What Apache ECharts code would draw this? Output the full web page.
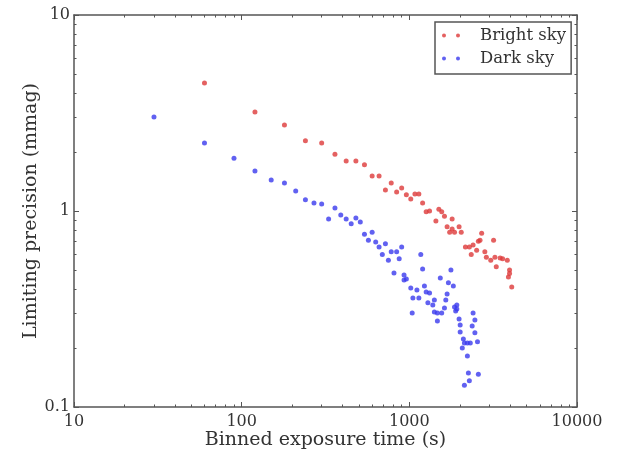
<!DOCTYPE html>
<html>
<head>
<meta charset="utf-8">
<script src="https://cdn.jsdelivr.net/npm/echarts@6/dist/echarts.min.js"></script>
<style>
html,body{margin:0;padding:0;background:#fff;}
#chart{width:619px;height:454px;}
</style>
</head>
<body>
<div id="chart"></div>
<script>
// Bright sky: [binned exposure time (s), limiting precision (mmag)]
var brightSky = [
  [60,4.50],[120,3.20],[180,2.75],[240,2.28],[300,2.22],[360,1.95],[420,1.80],[480,1.80],
  [540,1.72],[600,1.51],[660,1.51],[780,1.39],[720,1.28],[840,1.25],[900,1.31],[960,1.21],
  [1020,1.15],[1080,1.22],[1140,1.22],[1200,1.10],[1260,0.99],[1320,1.00],[1500,1.02],
  [1560,0.99],[1440,0.89],[1620,0.94],[1800,0.91],[1680,0.83],[1800,0.81],[1860,0.78],
  [1980,0.83],[2040,0.78],[1740,0.78],[2160,0.655],[2280,0.655],[2400,0.67],[2580,0.70],
  [2640,0.71],[2700,0.77],[2520,0.63],[2340,0.60],[2820,0.62],[3180,0.71],[2880,0.58],
  [3060,0.56],[3240,0.58],[3480,0.575],[3600,0.57],[3840,0.56],[3300,0.52],[3960,0.50],
  [3960,0.48],[3900,0.46],[4080,0.41]
];
// Dark sky
var darkSky = [
  [30,3.02],[60,2.22],[90,1.86],[120,1.60],[150,1.44],[180,1.39],[210,1.265],[240,1.14],
  [270,1.10],[300,1.086],[360,1.036],[330,0.91],[390,0.954],[420,0.91],[450,0.86],[480,0.92],
  [510,0.88],[540,0.76],[600,0.78],[570,0.71],[630,0.695],[720,0.68],[660,0.655],[780,0.62],
  [840,0.62],[900,0.655],[690,0.60],[750,0.56],[870,0.57],[1170,0.60],[1200,0.506],[810,0.483],
  [930,0.471],[930,0.444],[960,0.45],[1020,0.405],[1110,0.395],[1050,0.36],[1140,0.36],
  [1040,0.302],[1230,0.414],[1260,0.386],[1320,0.382],[1290,0.34],[1380,0.331],[1410,0.351],
  [1410,0.305],[1470,0.302],[1560,0.302],[1470,0.275],[1530,0.455],[1620,0.32],[1650,0.351],
  [1680,0.377],[1710,0.43],[1770,0.50],[1830,0.414],[1860,0.324],[1920,0.331],[1890,0.309],
  [1920,0.316],[1980,0.281],[2010,0.262],[2010,0.241],[2100,0.222],[2130,0.212],[2070,0.20],
  [2220,0.212],[2310,0.212],[2220,0.182],[2400,0.302],[2460,0.278],[2370,0.259],[2460,0.239],
  [2550,0.215],[2250,0.149],[2280,0.136],[2130,0.129],[2580,0.147]
];
var xMajorTicks = [10, 100, 1000, 10000];
var xMinorTicks = [20,30,40,50,60,70,80,90,200,300,400,500,600,700,800,900,2000,3000,4000,5000,6000,7000,8000,9000];
var yMajorTicks = [0.1, 1, 10];
var yMinorTicks = [0.2,0.3,0.4,0.5,0.6,0.7,0.8,0.9,2,3,4,5,6,7,8,9];
var xTitle = 'Binned exposure time (s)';
var yTitle = 'Limiting precision (mmag)';
var seriesNames = ['Bright sky', 'Dark sky'];

var FONT = 'DejaVu Serif';
var AXC = '#555';
var TXT = '#333';
function plain(v) { return String(v); }

function xAx(pos, ticks, len, showLine, showLabel, name) {
  return {
    type: 'log', logBase: 10, min: 10, max: 10000, position: pos,
    name: name || '', nameLocation: 'middle', nameGap: 24, nameMoveOverlap: false,
    nameTextStyle: {fontFamily: FONT, fontSize: 19, color: TXT},
    axisLine: {show: showLine, lineStyle: {color: AXC, width: 1.5}},
    axisTick: {show: true, inside: true, length: len, customValues: ticks, lineStyle: {color: AXC, width: 1}},
    axisLabel: {show: showLabel, customValues: ticks, margin: 7, fontFamily: FONT, fontSize: 16, color: TXT,
      formatter: plain},
    splitLine: {show: false}, minorTick: {show: false}
  };
}
function yAx(pos, ticks, len, showLine, showLabel, name) {
  return {
    type: 'log', logBase: 10, min: 0.1, max: 10, position: pos,
    name: name || '', nameLocation: 'middle', nameGap: 33, nameMoveOverlap: false,
    nameTextStyle: {fontFamily: FONT, fontSize: 19, color: TXT},
    axisLine: {show: showLine, lineStyle: {color: AXC, width: 1.5}},
    axisTick: {show: true, inside: true, length: len, customValues: ticks, lineStyle: {color: AXC, width: 1}},
    axisLabel: {show: showLabel, customValues: ticks, margin: 4, fontFamily: FONT, fontSize: 16, color: TXT,
      formatter: plain},
    splitLine: {show: false}, minorTick: {show: false}
  };
}

var chart = echarts.init(document.getElementById('chart'), null, {renderer: 'canvas'});
chart.setOption({
  animation: false,
  backgroundColor: '#fff',
  grid: {left: 74, right: 42, top: 15, bottom: 47, containLabel: false, outerBoundsMode: 'none'},
  xAxis: [
    xAx('bottom', xMajorTicks, 5, true, true, xTitle),
    xAx('bottom', xMinorTicks, 2.5, false, false),
    xAx('top', xMajorTicks, 5, true, false),
    xAx('top', xMinorTicks, 2.5, false, false)
  ],
  yAxis: [
    yAx('left', yMajorTicks, 5, true, true, yTitle),
    yAx('left', yMinorTicks, 2.5, false, false),
    yAx('right', yMajorTicks, 5, true, false),
    yAx('right', yMinorTicks, 2.5, false, false)
  ],
  legend: {
    left: 435, top: 22, orient: 'vertical',
    data: [
      {name: seriesNames[0], icon: 'path://M2,0A2,2,0,1,1,2,4A2,2,0,1,1,2,0ZM16,0A2,2,0,1,1,16,4A2,2,0,1,1,16,0Z'},
      {name: seriesNames[1], icon: 'path://M2,0A2,2,0,1,1,2,4A2,2,0,1,1,2,0ZM16,0A2,2,0,1,1,16,4A2,2,0,1,1,16,0Z'}
    ],
    itemWidth: 18, itemHeight: 4, itemGap: 6,
    padding: [5, 5, 7, 7],
    borderColor: AXC, borderWidth: 1.5, borderRadius: 0,
    textStyle: {fontFamily: FONT, fontSize: 16.5, color: TXT, lineHeight: 16, padding: [0, 0, 0, 15]}
  },
  series: [
    {name: seriesNames[0], type: 'scatter', xAxisIndex: 0, yAxisIndex: 0, data: brightSky,
      symbol: 'circle', symbolSize: 5, itemStyle: {color: '#dd3a3a'}},
    {name: seriesNames[1], type: 'scatter', xAxisIndex: 0, yAxisIndex: 0, data: darkSky,
      symbol: 'circle', symbolSize: 5, itemStyle: {color: '#3a3aee'}}
  ]
});
</script>
</body>
</html>
